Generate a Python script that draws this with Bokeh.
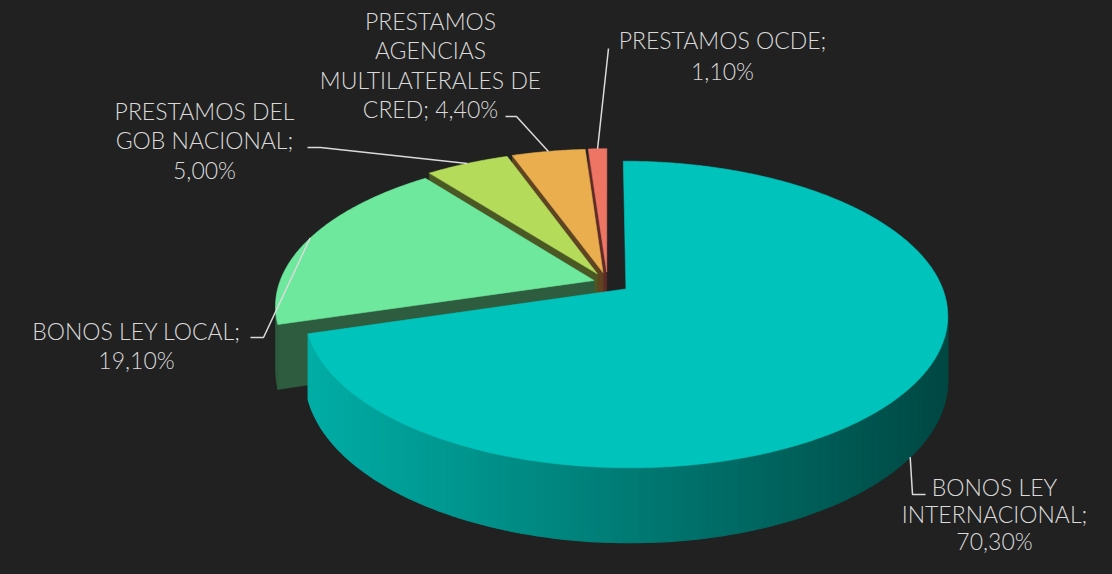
import numpy as np
from bokeh.plotting import figure
from bokeh.models import Range1d, ColumnDataSource
from bokeh.embed import file_html
from bokeh.resources import INLINE
from bokeh.core.properties import value

# ---------------- data ----------------
categories = ["BONOS LEY INTERNACIONAL", "BONOS LEY LOCAL", "PRESTAMOS DEL GOB NACIONAL",
              "PRESTAMOS AGENCIAS MULTILATERALES DE CRED", "PRESTAMOS OCDE"]
values = [70.3, 19.1, 5.0, 4.4, 1.1]
label_lines = [
    ["BONOS LEY", "INTERNACIONAL;", "70,30%"],
    ["BONOS LEY LOCAL;", "19,10%"],
    ["PRESTAMOS DEL", "GOB NACIONAL;", "5,00%"],
    ["PRESTAMOS", "AGENCIAS", "MULTILATERALES DE", "CRED; 4,40%"],
    ["PRESTAMOS OCDE;", "1,10%"],
]
top_colors = ["#00C4BC", "#6DE89D", "#B4DC5A", "#EAAE4E", "#EE7564"]
side_colors = [None, "#2D5C3E", "#4A5823", "#5E4421", "#5E2C26"]

# ---------------- layout / style ----------------
BG = "#212121"
TXT = "#DADADA"
FONT = "Lato Light"
cx, cy = 607.0, 282.0      # pie centre (pixels)
A, B = 314.5, 146.9        # horizontal / vertical radius
K = 0.1656                 # perspective factor
H = 62.0                   # thickness
explode = [0.0726, 0.045, 0.068, 0.07, 0.0726]

TEXT_DY = -8               # baseline correction
label_x = [994, 136, 204, 430, 722]
label_y0 = [494, 338, 118, 28, 47]
line_gap = [27.0, 29.5, 29.5, 29.5, 31.0]
leader_elbow = [(912, 494), (263, 337), (320, 147), (516, 116), None]
leader_end = [(925, 494), (250, 337), (307, 147), (505, 116), (608, 48)]

W, Hh = 1096, 558
p = figure(width=W, height=Hh, x_range=Range1d(0, W), y_range=Range1d(Hh, 0),
           output_backend="svg", toolbar_location=None, min_border=0,
           background_fill_color=BG, border_fill_color=BG, outline_line_color=None)
p.axis.visible = False
p.grid.visible = False


def P(u, v):
    s = 1.0 + K * v
    return cx + A * u / s, cy - B * v / s


def D(v):
    return H / (1.0 + K * v)


tot = float(sum(values))
angles = np.cumsum([0.0] + [v / tot * 360.0 for v in values])

slices = []
for i, v in enumerate(values):
    t0, t1 = angles[i], angles[i + 1]
    tm = 0.5 * (t0 + t1)
    e = explode[i]
    du, dv = e * np.sin(np.radians(tm)), e * np.cos(np.radians(tm))
    slices.append((t0, t1, tm, du, dv))

draw_order = [4, 3, 2, 1, 0]
for i in draw_order:
    t0, t1, tm, du, dv = slices[i]
    # start radial face
    if np.sin(np.radians(t0)) < 0:
        u1 = du + np.sin(np.radians(t0)); v1 = dv + np.cos(np.radians(t0))
        x0, y0 = P(du, dv); x1, y1 = P(u1, v1)
        p.patch([x0, x1, x1, x0], [y0, y1, y1 + D(v1), y0 + D(dv)],
                fill_color=side_colors[i], line_color=side_colors[i], line_width=0.6)
    # outer side (visible front part)
    tt = np.linspace(0, 360, 3601)
    xs_full, _ = P(du + np.sin(np.radians(tt)), dv + np.cos(np.radians(tt)))
    t_right = tt[np.argmax(xs_full)]
    t_left = tt[np.argmin(xs_full)]
    a, b = max(t0, t_right), min(t1, t_left)
    if a < b:
        ta = np.linspace(a, b, 120)
        us = du + np.sin(np.radians(ta)); vs = dv + np.cos(np.radians(ta))
        xt, yt = P(us, vs)
        yb = yt + D(vs)
        if side_colors[i] is None:
            c_left = np.array([0, 174, 166]); c_right = np.array([0, 72, 67])
            xmin, xmax = xt.min(), xt.max()
            qx, qy, qc = [], [], []
            for j in range(len(ta) - 1):
                f = ((xt[j] + xt[j + 1]) / 2 - xmin) / (xmax - xmin)
                c = (c_left + (c_right - c_left) * f).astype(int)
                qx.append([xt[j], xt[j + 1], xt[j + 1], xt[j]])
                qy.append([yt[j], yt[j + 1], yb[j + 1], yb[j]])
                qc.append("#%02x%02x%02x" % tuple(c))
            src = ColumnDataSource(dict(xs=qx, ys=qy, c=qc))
            p.patches("xs", "ys", source=src, fill_color="c", line_color="c", line_width=1.2)
        else:
            p.patch(np.concatenate([xt, xt[::-1]]), np.concatenate([yt, yb[::-1]]),
                    fill_color=side_colors[i], line_color=side_colors[i], line_width=0.6)
    # top face
    ta = np.linspace(t0, t1, max(8, int((t1 - t0) * 2)))
    us = np.concatenate([[du], du + np.sin(np.radians(ta))])
    vs = np.concatenate([[dv], dv + np.cos(np.radians(ta))])
    xt, yt = P(us, vs)
    p.patch(xt, yt, fill_color=top_colors[i], line_color=top_colors[i], line_width=0.6)

# leader lines
lx, ly = [], []
for i in range(len(values)):
    t0, t1, tm, du, dv = slices[i]
    um = du + np.sin(np.radians(tm)); vm = dv + np.cos(np.radians(tm))
    sx, sy = P(um, vm)
    if i == 0:
        sy = sy + D(vm)
    pts = [(sx, sy)]
    if leader_elbow[i] is not None:
        pts.append(leader_elbow[i])
    pts.append(leader_end[i])
    lx.append([q[0] for q in pts]); ly.append([q[1] for q in pts])
p.multi_line(lx, ly, line_color=TXT, line_width=1.5)

# labels
tx, ty, tt_ = [], [], []
for i, lines in enumerate(label_lines):
    for j, s in enumerate(lines):
        tx.append(label_x[i]); ty.append(label_y0[i] + TEXT_DY + j * line_gap[i]); tt_.append(s)
p.text(x=tx, y=ty, text=tt_, text_font=value(FONT), text_font_size="23px",
       text_color=TXT, text_align="center", text_baseline="alphabetic")

html = file_html(p, INLINE, title="chart")
html = html.replace("<body>", '<body style="background-color:#212121;">')
open("out.html", "w").write(html)
